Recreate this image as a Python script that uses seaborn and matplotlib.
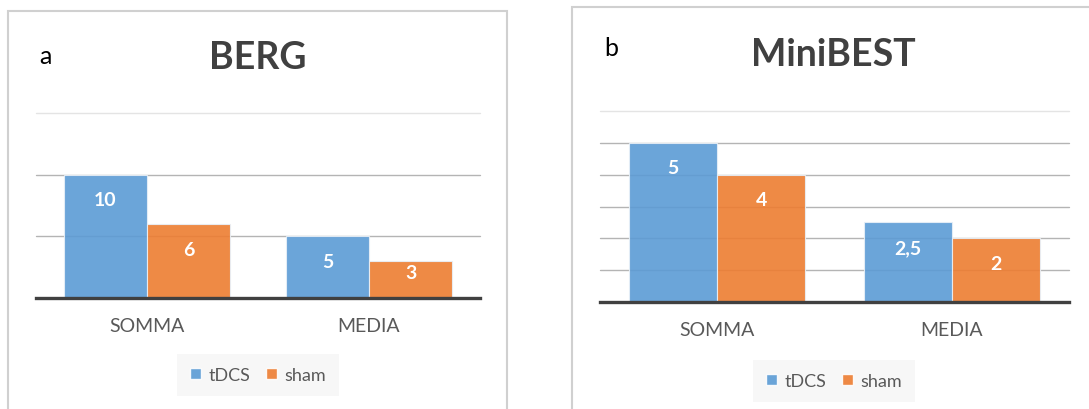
import matplotlib
matplotlib.use("Agg")
import matplotlib.pyplot as plt
from matplotlib.patches import Patch, Rectangle
import pandas as pd
import seaborn as sns

groups = ["SOMMA", "MEDIA"]
series = ["tDCS", "sham"]
berg_tdcs = [10, 5]
berg_sham = [6, 3]
mini_tdcs = [5, 2.5]
mini_sham = [4, 2]
berg_ticks = [5, 10, 15]
mini_ticks = [1, 2, 3, 4, 5, 6]

colors = {"tDCS": "#5B9BD5", "sham": "#ED7D31"}
grey_txt = "#595959"

sns.set_theme(style="white")
plt.rcParams["font.family"] = ["Lato", "DejaVu Sans"]

W, H = 1089, 410
fig = plt.figure(figsize=(W / 100, H / 100), dpi=100)
fig.patch.set_facecolor("white")


def px_box(x0, y0, x1, y1):
    # pixel box (top-left origin) -> figure fraction [left, bottom, width, height]
    return [x0 / W, (H - y1) / H, (x1 - x0) / W, (y1 - y0) / H]


def fmt(v):
    return f"{v:g}".replace(".", ",")


panels = [
    dict(letter="a", title="BERG", tdcs=berg_tdcs, sham=berg_sham, ticks=berg_ticks,
         border=(8, 12, 507, 430), ax=(36, 114, 480, 299),
         letter_xy=(45, 57), title_xy=(258, 58), legend_xy=(258, 376)),
    dict(letter="b", title="MiniBEST", tdcs=mini_tdcs, sham=mini_sham, ticks=mini_ticks,
         border=(572, 8, 1100, 430), ax=(600, 112, 1069, 303),
         letter_xy=(611, 49), title_xy=(833, 55), legend_xy=(834, 382)),
]

for p in panels:
    bx0, by0, bx1, by1 = p["border"]
    fig.patches.append(Rectangle((bx0 / W, (H - by1) / H), (bx1 - bx0) / W, (by1 - by0) / H,
                                 transform=fig.transFigure, fill=False,
                                 edgecolor="#d0d0d0", linewidth=1.5))

    df = pd.DataFrame({
        "group": groups * 2,
        "series": [series[0]] * len(groups) + [series[1]] * len(groups),
        "value": p["tdcs"] + p["sham"],
    })

    ax = fig.add_axes(px_box(*p["ax"]))
    sns.barplot(data=df, x="group", y="value", hue="series", order=groups,
                hue_order=series, palette=colors, saturation=1, width=0.75, gap=0,
                alpha=0.9, edgecolor="#e8f0f8", linewidth=0.8, legend=False, ax=ax)

    ax.set_xlim(-0.5, len(groups) - 0.5)
    ax.set_ylim(0, p["ticks"][-1])

    # value labels just inside the top of each bar (Excel "inside end")
    px_per_unit = (p["ax"][3] - p["ax"][1]) / p["ticks"][-1]
    for cont, vals in zip(ax.containers, [p["tdcs"], p["sham"]]):
        for rect, v in zip(cont, vals):
            h_px = v * px_per_unit
            drop = 25 if h_px > 50 else 0.32 * h_px
            ax.annotate(fmt(v), (rect.get_x() + rect.get_width() / 2, v),
                        xytext=(0, -drop * 0.72), textcoords="offset points",
                        ha="center", va="center", color="white",
                        fontsize=14, fontweight="bold")

    ax.set_yticks(p["ticks"])
    ax.set_yticklabels([])
    ax.set_axisbelow(True)
    ax.yaxis.grid(True, color="#b4b4b4", linewidth=1)
    gl = ax.get_ygridlines()
    for g in gl:
        g.set_clip_on(False)
    gl[-1].set_color("#e4e4e4")
    ax.set_xlabel("")
    ax.set_ylabel("")
    ax.tick_params(axis="both", length=0)
    ax.tick_params(axis="x", pad=14, labelsize=14, labelcolor=grey_txt)
    for s in ["top", "left", "right"]:
        ax.spines[s].set_visible(False)
    ax.spines["bottom"].set_color("#404040")
    ax.spines["bottom"].set_linewidth(2.4)

    handles = [Patch(facecolor=colors[s], alpha=0.9, label=s) for s in series]
    lx, ly = p["legend_xy"]
    leg = ax.legend(handles=handles, loc="center", ncol=2,
                    bbox_to_anchor=(lx / W, 1 - ly / H), bbox_transform=fig.transFigure,
                    fontsize=13, frameon=True, fancybox=False, facecolor="#f7f7f7",
                    edgecolor="none", framealpha=1, handlelength=0.6, handleheight=0.6,
                    handletextpad=0.4, columnspacing=0.9, borderpad=0.7)
    for t in leg.get_texts():
        t.set_color(grey_txt)

    fig.text(p["letter_xy"][0] / W, 1 - p["letter_xy"][1] / H, p["letter"],
             ha="center", va="center", fontsize=18, color="black")
    fig.text(p["title_xy"][0] / W, 1 - p["title_xy"][1] / H, p["title"],
             ha="center", va="center", fontsize=27, fontweight="bold", color="#404040")

fig.savefig("out.png", dpi=100, facecolor="white")
